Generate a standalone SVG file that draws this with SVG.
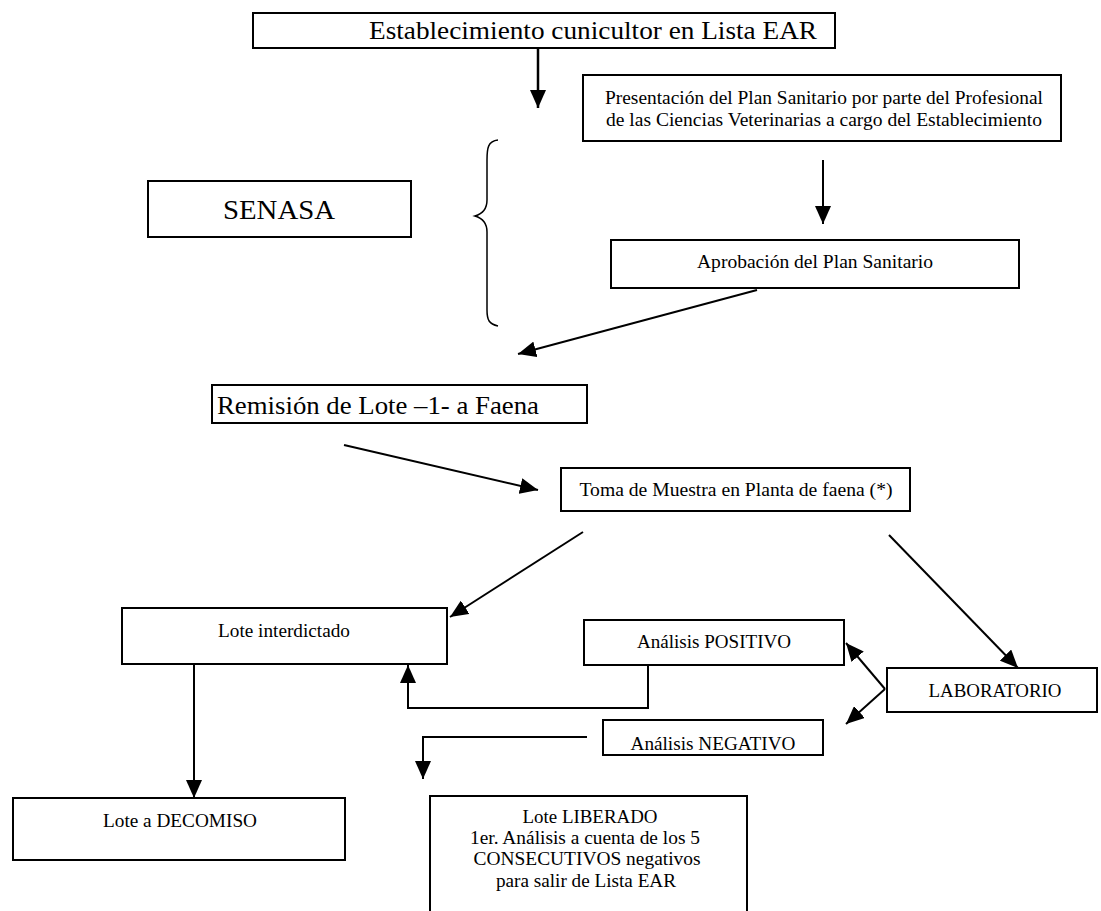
<svg xmlns="http://www.w3.org/2000/svg" width="1101" height="911" viewBox="0 0 1101 911">
<style>
.box{fill:#fff;stroke:#000;stroke-width:2}
.t{font-family:"Liberation Serif","Times New Roman",serif;fill:#000;text-anchor:middle}
.c{fill:none;stroke:#000;stroke-width:2}
</style>
<defs>
<marker id="ah" markerUnits="userSpaceOnUse" markerWidth="20" markerHeight="16" refX="18" refY="8" orient="auto">
<path d="M0,0 L18,8 L0,16 z" fill="#000"/>
</marker>
</defs>
<rect width="1101" height="911" fill="#fff"/>
<g id="connectors">
<line class="c" x1="538" y1="48" x2="538" y2="108" marker-end="url(#ah)" style="stroke-width:2.5"/>
<line class="c" x1="823" y1="160" x2="823" y2="224" marker-end="url(#ah)"/>
<line class="c" x1="757" y1="290" x2="518" y2="354" marker-end="url(#ah)"/>
<line class="c" x1="344" y1="445" x2="538" y2="490" marker-end="url(#ah)"/>
<line class="c" x1="583" y1="532" x2="450" y2="617" marker-end="url(#ah)"/>
<line class="c" x1="889" y1="535" x2="1018" y2="668" marker-end="url(#ah)"/>
<line class="c" x1="885" y1="689" x2="846" y2="643" marker-end="url(#ah)"/>
<line class="c" x1="885" y1="689" x2="846" y2="724" marker-end="url(#ah)"/>
<polyline class="c" points="648,665 648,708 408,708 408,665" marker-end="url(#ah)"/>
<polyline class="c" points="587,737 423,737 423,779" marker-end="url(#ah)"/>
<line class="c" x1="194" y1="664" x2="194" y2="798" marker-end="url(#ah)"/>
<path class="c" d="M498,140 C488,141 487,148 487,160 L487,200 C487,210 482,214 475,216 C482,218 487,222 487,232 L487,310 C487,320 489,324 498,326" style="stroke-width:1.5"/>
</g>
<g id="n-establecimiento">
<rect class="box" x="253" y="13" width="582" height="35"/>
<text class="t" x="593" y="39" font-size="25" textLength="448" lengthAdjust="spacingAndGlyphs">Establecimiento cunicultor en Lista EAR</text>
</g>
<g id="n-presentacion">
<rect class="box" x="583" y="75" width="478" height="66"/>
<text class="t" x="824" y="104" font-size="18" textLength="438" lengthAdjust="spacingAndGlyphs">Presentación del Plan Sanitario por parte del Profesional</text>
<text class="t" x="824" y="126" font-size="18" textLength="436" lengthAdjust="spacingAndGlyphs">de las Ciencias Veterinarias a cargo del Establecimiento</text>
</g>
<g id="n-senasa">
<rect class="box" x="148" y="181" width="263" height="56"/>
<text class="t" x="279" y="219" font-size="28" textLength="112" lengthAdjust="spacingAndGlyphs">SENASA</text>
</g>
<g id="n-aprobacion">
<rect class="box" x="611" y="240" width="408" height="48"/>
<text class="t" x="815" y="268" font-size="19" textLength="236" lengthAdjust="spacingAndGlyphs">Aprobación del Plan Sanitario</text>
</g>
<g id="n-remision">
<rect class="box" x="212" y="385" width="375" height="38"/>
<text class="t" x="378" y="414" font-size="26" textLength="322" lengthAdjust="spacingAndGlyphs">Remisión de Lote –1- a Faena</text>
</g>
<g id="n-toma">
<rect class="box" x="561" y="468" width="349" height="43"/>
<text class="t" x="736" y="496" font-size="19" textLength="313" lengthAdjust="spacingAndGlyphs">Toma de Muestra en Planta de faena (*)</text>
</g>
<g id="n-interdictado">
<rect class="box" x="122" y="608" width="325" height="56"/>
<text class="t" x="284" y="637" font-size="19" textLength="132" lengthAdjust="spacingAndGlyphs">Lote interdictado</text>
</g>
<g id="n-positivo">
<rect class="box" x="584" y="620" width="260" height="45"/>
<text class="t" x="714" y="648" font-size="19" textLength="154" lengthAdjust="spacingAndGlyphs">Análisis POSITIVO</text>
</g>
<g id="n-laboratorio">
<rect class="box" x="887" y="668" width="210" height="44"/>
<text class="t" x="995" y="697" font-size="19" textLength="133" lengthAdjust="spacingAndGlyphs">LABORATORIO</text>
</g>
<g id="n-negativo">
<rect class="box" x="603" y="720" width="220" height="35"/>
<text class="t" x="713" y="750" font-size="19" textLength="165" lengthAdjust="spacingAndGlyphs">Análisis NEGATIVO</text>
</g>
<g id="n-decomiso">
<rect class="box" x="13" y="798" width="332" height="62"/>
<text class="t" x="180" y="827" font-size="19" textLength="154" lengthAdjust="spacingAndGlyphs">Lote a DECOMISO</text>
</g>
<g id="n-liberado">
<rect class="box" x="430" y="796" width="317" height="125"/>
<text class="t" x="590" y="823" font-size="18" textLength="135" lengthAdjust="spacingAndGlyphs">Lote LIBERADO</text>
<text class="t" x="585" y="844" font-size="18" textLength="230" lengthAdjust="spacingAndGlyphs">1er. Análisis a cuenta de los 5</text>
<text class="t" x="587" y="865" font-size="18" textLength="227" lengthAdjust="spacingAndGlyphs">CONSECUTIVOS negativos</text>
<text class="t" x="586" y="887" font-size="18" textLength="180" lengthAdjust="spacingAndGlyphs">para salir de Lista EAR</text>
</g>
</svg>
